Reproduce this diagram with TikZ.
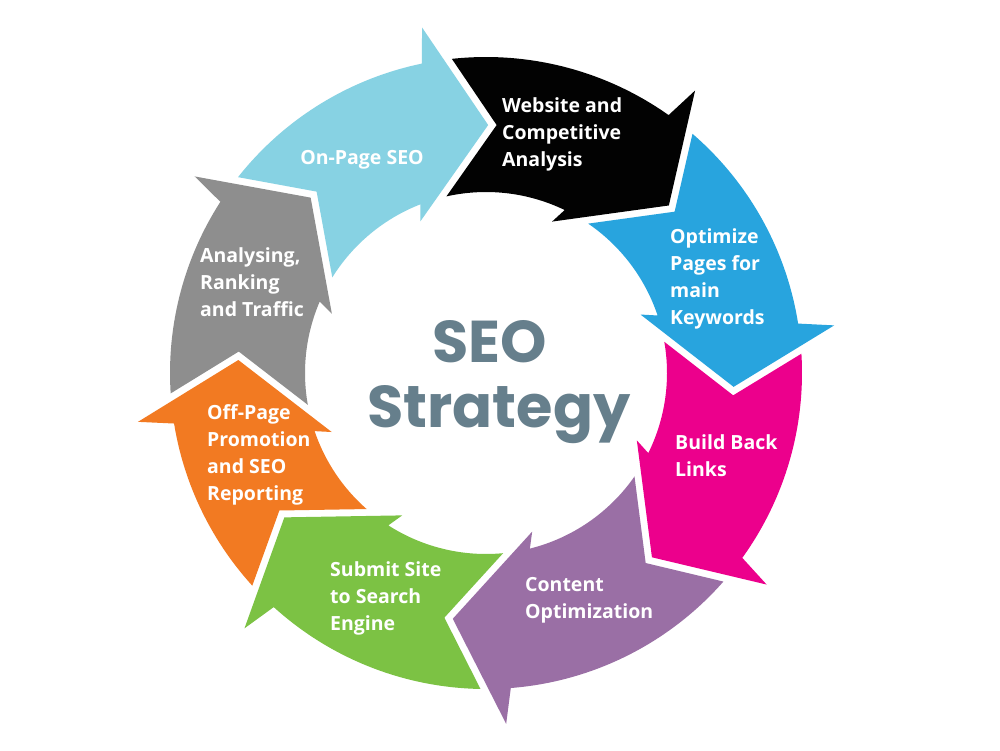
\documentclass[tikz,border=0pt]{standalone}
\usepackage{fontspec}
\setmainfont{Open Sans}
\newfontfamily\popfont{Poppins}
\definecolor{clblue}{RGB}{135,210,227}
\definecolor{cblack}{RGB}{2,2,2}
\definecolor{cblue}{RGB}{40,164,222}
\definecolor{cpink}{RGB}{236,0,140}
\definecolor{cpurple}{RGB}{154,111,165}
\definecolor{cgreen}{RGB}{124,194,68}
\definecolor{corange}{RGB}{242,122,34}
\definecolor{cgray}{RGB}{142,142,142}
\definecolor{ctitle}{RGB}{102,127,140}
\tikzset{
  lbl/.style={font=\bfseries\fontsize{19.5}{27}\selectfont, text=white, align=left, inner sep=0pt, anchor=north west},
  title/.style={font=\popfont\bfseries\fontsize{59}{65}\selectfont, text=ctitle, inner sep=0pt, anchor=base}
}
\begin{document}
\begin{tikzpicture}[x=1pt,y=1pt]
\useasboundingbox (0,0) rectangle (1000,-750);
\fill[white] (0,0) rectangle (1000,-750);
\begin{scope}[shift={(486,-373)}]
% \a = tip angle of the segment, \p = tip angle of the previous segment
\foreach \c/\a/\p in {clblue/89.5/135, cblack/42.5/89.5, cblue/-3.2/42.5, cpink/-48/-3.2,
                      cpurple/-97.7/-48, cgreen/-144.4/-97.7, corange/-183/-144.4, cgray/-225/-183}{
  \fill[\c]
    (\p+6.7:316) arc[start angle=\p+6.7, end angle=\a+12.2, radius=316]
    -- (\a+10.99:351.45) -- (\a:248) -- (\a+23.93:165.2) -- (\a+21.73:181)
    arc[start angle=\a+21.73, end angle=\p+13.13, radius=181]
    -- (\p-1.96:248.2) -- cycle;
}
\end{scope}
\node[lbl, anchor=base] (onpage) at (362,-164) {On-Page SEO};
\node[lbl] (website) at (502,-97) {Website and\\Competitive\\Analysis};
\node[lbl] (optimize) at (670,-228) {Optimize\\Pages for\\main\\Keywords};
\node[lbl] (build) at (675,-434) {Build Back\\Links};
\node[lbl] (content) at (525,-577) {Content\\Optimization};
\node[lbl] (submit) at (330,-561) {Submit Site\\to Search\\Engine};
\node[lbl] (offpage) at (207,-404) {Off-Page\\Promotion\\and SEO\\Reporting};
\node[lbl] (analysing) at (200,-247) {Analysing,\\Ranking\\and Traffic};
\node[title] (seo) at (489.5,-362) {SEO};
\node[title] (strategy) at (499,-427) {Strategy};
\end{tikzpicture}
\end{document}
